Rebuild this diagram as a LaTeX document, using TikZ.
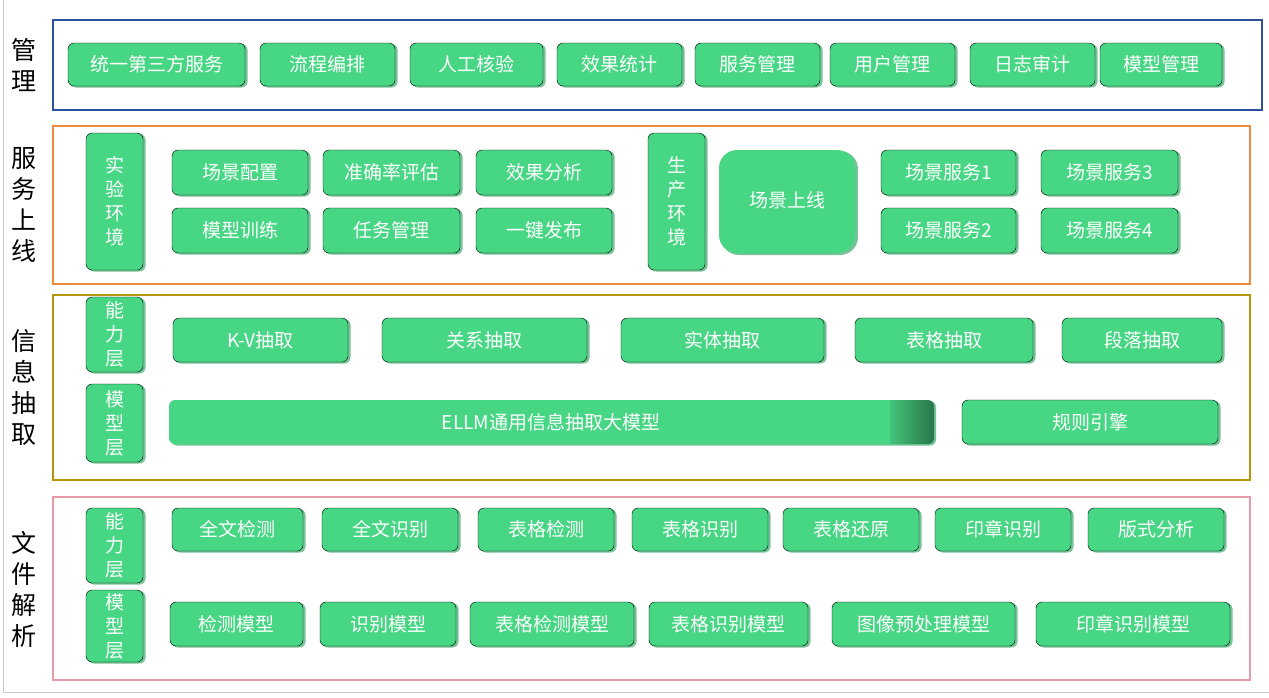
\documentclass[tikz,border=0pt]{standalone}
\usepackage{fontspec}
\setmainfont{Noto Sans CJK SC}
\begin{document}
\begin{tikzpicture}[x=1pt,y=-1pt,
  bx/.style={fill=boxg,rounded corners=6pt,text=white,font=\fontsize{19}{22}\selectfont},
  frame/.style={line width=2.5pt},
  lab/.style={font=\fontsize{25}{31}\selectfont,align=center,text=black}]
\definecolor{boxg}{HTML}{46D684}
\definecolor{shd}{HTML}{3BA96A}
\definecolor{fblue}{HTML}{2E4FA0}
\definecolor{forange}{HTML}{EE8A3C}
\definecolor{fgold}{HTML}{B8960C}
\definecolor{fpink}{HTML}{E99AA8}
\useasboundingbox (0,0) rectangle (1269,697);
\draw[gray!40,line width=1pt] (3,0) -- (3,692) -- (1269,692);
\newcommand{\B}[6]{%
  \fill[shd,opacity=0.7,rounded corners=6pt] (#2+2,#3+1) rectangle (#4+2.5,#5+1.5);
  \draw[bx] (#2,#3) rectangle (#4,#5);
  \node[text=white,font=\fontsize{19}{22}\selectfont,align=center] (#1) at ({(#2+#4)/2},{(#3+#5)/2}) {#6};}
\newcommand{\V}[6]{%
  \fill[shd,opacity=0.7,rounded corners=6pt] (#2+2,#3+1) rectangle (#4+2.5,#5+1.5);
  \draw[bx] (#2,#3) rectangle (#4,#5);
  \node[text=white,font=\fontsize{19}{24}\selectfont,align=center] (#1) at ({(#2+#4)/2},{(#3+#5)/2}) {#6};}
% frames
\draw[frame,fblue] (53,20) rectangle (1262,110);
\draw[frame,forange] (53,126) rectangle (1250,284);
\draw[frame,fgold] (53,295) rectangle (1250,480);
\draw[frame,fpink] (53,497) rectangle (1250,680);
\node[lab] (l1) at (24,65) {管\\理};
\node[lab] (l2) at (24,205) {服\\务\\上\\线};
\node[lab] (l3) at (24,387) {信\\息\\抽\\取};
\node[lab] (l4) at (24,589) {文\\件\\解\\析};
% management
\B{m1}{68}{43}{245}{86}{统一第三方服务}
\B{m2}{260}{43}{395}{86}{流程编排}
\B{m3}{410}{43}{543}{86}{人工核验}
\B{m4}{557}{43}{682}{86}{效果统计}
\B{m5}{695}{43}{820}{86}{服务管理}
\B{m6}{830}{43}{955}{86}{用户管理}
\B{m7}{970}{43}{1095}{86}{日志审计}
\B{m8}{1100}{43}{1222}{86}{模型管理}
% service
\V{s0}{86}{133}{143}{270}{实\\验\\环\\境}
\B{s1}{172}{150}{308}{195}{场景配置}
\B{s2}{323}{150}{460}{195}{准确率评估}
\B{s3}{476}{150}{612}{195}{效果分析}
\B{s4}{172}{208}{308}{253}{模型训练}
\B{s5}{323}{208}{460}{253}{任务管理}
\B{s6}{476}{208}{612}{253}{一键发布}
\V{p0}{648}{133}{705}{270}{生\\产\\环\\境}
\fill[shd,opacity=0.7,rounded corners=18pt] (721,151) rectangle (858,255);
\draw[fill=boxg,draw=none,rounded corners=18pt] (719,150) rectangle (855,253);
\node[text=white,font=\fontsize{19}{22}\selectfont] (p1) at (787,200) {场景上线};
\B{p2}{881}{150}{1016}{195}{场景服务1}
\B{p3}{1041}{150}{1178}{195}{场景服务3}
\B{p4}{881}{208}{1016}{253}{场景服务2}
\B{p5}{1041}{208}{1178}{253}{场景服务4}
% extraction
\V{e0}{86}{297}{143}{372}{能\\力\\层}
\V{e9}{86}{384}{143}{462}{模\\型\\层}
\B{e1}{173}{318}{348}{362}{K-V抽取}
\B{e2}{382}{318}{587}{362}{关系抽取}
\B{e3}{621}{318}{824}{362}{实体抽取}
\B{e4}{855}{318}{1033}{362}{表格抽取}
\B{e5}{1062}{318}{1222}{362}{段落抽取}
\fill[shd,opacity=0.7,rounded corners=6pt] (171,401) rectangle (936,445.5);
\fill[boxg,rounded corners=6pt] (169,400) rectangle (900,444);
\shade[left color=boxg,right color=shd!70!black,rounded corners=6pt] (880,400) rectangle (934,444);
\fill[boxg] (880,400) rectangle (890,444);
\node[text=white,font=\fontsize{19}{22}\selectfont] (e6) at (551,422) {ELLM通用信息抽取大模型};
\B{e7}{962}{400}{1218}{444}{规则引擎}
% parsing
\V{f0}{86}{508}{143}{583}{能\\力\\层}
\V{f9}{86}{590}{143}{662}{模\\型\\层}
\B{f1}{172}{508}{303}{551}{全文检测}
\B{f2}{322}{508}{458}{551}{全文识别}
\B{f3}{478}{508}{614}{551}{表格检测}
\B{f4}{632}{508}{768}{551}{表格识别}
\B{f5}{783}{508}{919}{551}{表格还原}
\B{f6}{935}{508}{1071}{551}{印章识别}
\B{f7}{1088}{508}{1224}{551}{版式分析}
\B{g1}{170}{602}{303}{646}{检测模型}
\B{g2}{320}{602}{456}{646}{识别模型}
\B{g3}{470}{602}{634}{646}{表格检测模型}
\B{g4}{649}{602}{808}{646}{表格识别模型}
\B{g5}{832}{602}{1015}{646}{图像预处理模型}
\B{g6}{1036}{602}{1230}{646}{印章识别模型}
\end{tikzpicture}
\end{document}
